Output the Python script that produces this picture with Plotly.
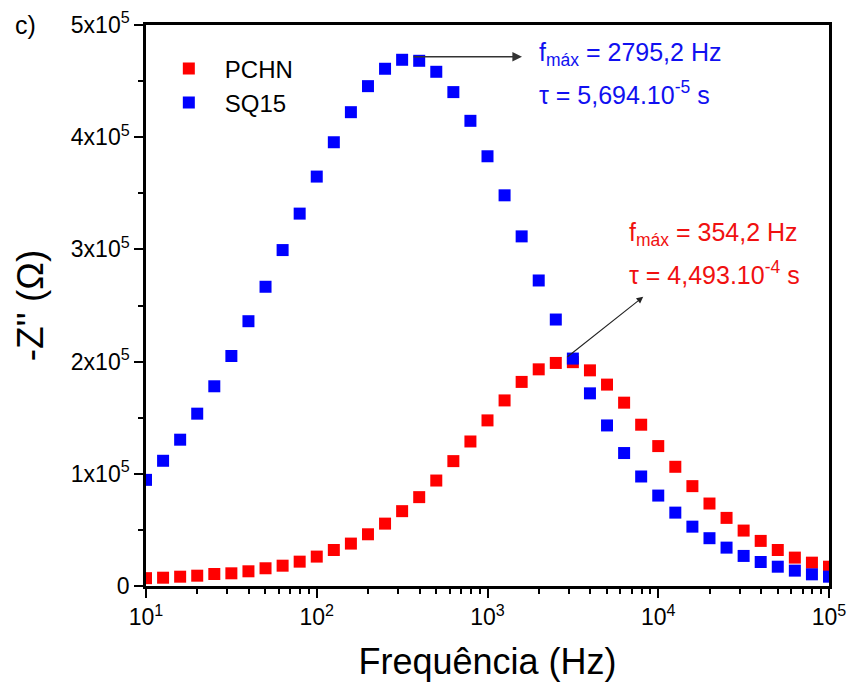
import plotly.graph_objects as go

# ---- data ----
freq = [10, 12.59, 15.85, 19.95, 25.12, 31.62, 39.81, 50.12, 63.10, 79.43,
        100, 125.9, 158.5, 199.5, 251.2, 316.2, 398.1, 501.2, 631.0, 794.3,
        1000, 1259, 1585, 1995, 2512, 3162, 3981, 5012, 6310, 7943,
        10000, 12589, 15849, 19953, 25119, 31623, 39811, 50119, 63096, 79433, 100000]

pchn = [7000, 7400, 8300, 9200, 10700, 11300, 13100, 15800, 18100, 21700,
        26200, 32100, 37800, 46100, 55600, 66700, 79200, 94000, 111300, 128800,
        147600, 165400, 181900, 193100, 198800, 199500, 192200, 179500, 163400, 143750,
        124700, 106250, 89000, 73500, 60700, 49400, 40200, 32100, 25300, 20800, 17200]

sq15 = [94600, 111600, 130400, 153600, 178000, 205000, 236000, 266700, 299400, 331900,
        364900, 395500, 422300, 445500, 461000, 469000, 468100, 458300, 440200, 414600,
        383000, 348200, 311600, 272300, 237500, 202700, 171700, 143100, 118500, 97600,
        80600, 65400, 52900, 42600, 34200, 26800, 21400, 17200, 13700, 10400, 8300]

x_tick_vals = [10, 100, 1000, 10000, 100000]
x_tick_text = ["10<sup>1</sup>", "10<sup>2</sup>", "10<sup>3</sup>", "10<sup>4</sup>", "10<sup>5</sup>"]
x_minor_vals = [m * d for d in (10, 100, 1000, 10000) for m in range(2, 10)]

y_tick_vals = [0, 100000, 200000, 300000, 400000, 500000]
y_tick_text = ["0", "1x10<sup>5</sup>", "2x10<sup>5</sup>", "3x10<sup>5</sup>",
               "4x10<sup>5</sup>", "5x10<sup>5</sup>"]
y_minor_vals = [50000, 150000, 250000, 350000, 450000]

FONT = "Arial, Liberation Sans, sans-serif"

fig = go.Figure()
fig.add_trace(go.Scatter(x=freq, y=pchn, mode="markers", name="PCHN",
                         marker=dict(symbol="square", size=12, color="#FF0000")))
fig.add_trace(go.Scatter(x=freq, y=sq15, mode="markers", name="SQ15",
                         marker=dict(symbol="square", size=12, color="#0000FF")))

fig.update_layout(
    width=847, height=684,
    margin=dict(l=146, r=18, t=25, b=98, autoexpand=False),
    plot_bgcolor="white", paper_bgcolor="white",
    font=dict(family=FONT, color="black"),
    showlegend=True,
    legend=dict(x=0.010, y=0.962, xanchor="left", yanchor="top",
                font=dict(size=24, family=FONT, color="black"),
                bgcolor="rgba(0,0,0,0)", itemwidth=62),
)

fig.update_xaxes(
    type="log", range=[1, 5], automargin=False,
    tickmode="array", tickvals=x_tick_vals, ticktext=x_tick_text,
    ticks="outside", ticklen=9, tickwidth=2, tickcolor="black",
    tickfont=dict(size=23, family=FONT, color="black"),
    showline=True, linewidth=2.5, linecolor="black", mirror=True,
    showgrid=False, zeroline=False,
    minor=dict(tickmode="array", tickvals=x_minor_vals, ticks="outside",
               ticklen=5, tickwidth=2, tickcolor="black", showgrid=False),
    title=dict(text="Frequência (Hz)", font=dict(size=36, family=FONT, color="black"),
               standoff=20),
)

fig.update_yaxes(
    range=[0, 500000], automargin=False,
    tickmode="array", tickvals=y_tick_vals, ticktext=y_tick_text,
    ticks="outside", ticklen=9, tickwidth=2, tickcolor="black",
    tickfont=dict(size=23, family=FONT, color="black"),
    showline=True, linewidth=2.5, linecolor="black", mirror=True,
    showgrid=False, zeroline=False,
    minor=dict(tickmode="array", tickvals=y_minor_vals, ticks="outside",
               ticklen=5, tickwidth=2, tickcolor="black", showgrid=False),
    title=dict(text="-Z'' (Ω)", font=dict(size=37, family=FONT, color="black"),
               standoff=16),
)

BLUE = "#1010F0"
RED = "#F01010"
ann = [
    # panel label
    dict(text="c)", xref="paper", yref="paper", x=-0.177, y=1.0, xanchor="center",
         yanchor="middle", showarrow=False, font=dict(size=25, family=FONT, color="black")),
    # blue arrow and text
    dict(x=3.202, y=471700, ax=2.558, ay=471700, xref="x", yref="y", axref="x", ayref="y",
         text="", showarrow=True, arrowhead=2, arrowsize=1.2, arrowwidth=1.6, arrowcolor="#333333"),
    dict(text="f<sub>máx</sub> = 2795,2 Hz", x=3.292, y=474000, xref="x", yref="y",
         xanchor="left", yanchor="middle", showarrow=False,
         font=dict(size=25, family=FONT, color=BLUE)),
    dict(text="τ = 5,694.10<sup>-5</sup> s", x=3.292, y=439500, xref="x", yref="y",
         xanchor="left", yanchor="middle", showarrow=False,
         font=dict(size=25, family=FONT, color=BLUE)),
    # red arrow and text
    dict(x=3.912, y=257800, ax=3.460, ay=203300, xref="x", yref="y", axref="x", ayref="y",
         text="", showarrow=True, arrowhead=2, arrowsize=1.2, arrowwidth=1.1, arrowcolor="#222222"),
    dict(text="f<sub>máx</sub> = 354,2 Hz", x=3.817, y=313500, xref="x", yref="y",
         xanchor="left", yanchor="middle", showarrow=False,
         font=dict(size=25, family=FONT, color=RED)),
    dict(text="τ = 4,493.10<sup>-4</sup> s", x=3.817, y=279000, xref="x", yref="y",
         xanchor="left", yanchor="middle", showarrow=False,
         font=dict(size=25, family=FONT, color=RED)),
]
fig.update_layout(annotations=ann)

fig.write_html(
    "out.html",
    config={"displayModeBar": False},
    post_script="document.body.style.margin='0';document.documentElement.style.overflow='hidden';document.body.style.overflow='hidden';",
)
